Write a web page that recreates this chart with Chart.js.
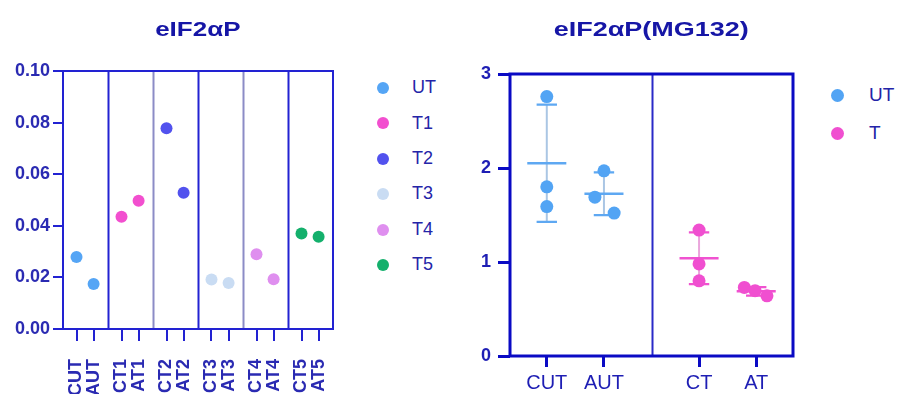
<!DOCTYPE html>
<html>
<head>
<meta charset="utf-8">
<script src="https://cdn.jsdelivr.net/npm/chart.js@4.4.1/dist/chart.umd.min.js"></script>
<style>
  html, body { margin: 0; padding: 0; background: #ffffff; }
  body { width: 897px; height: 394px; position: relative; overflow: hidden; font-family: "Liberation Sans", Arial, sans-serif; }
  canvas { position: absolute; top: 0; }
  .title { position: absolute; top: 18px; font-weight: bold; font-size: 20px; color: #1616a6; white-space: nowrap; transform-origin: center; }
  .legend { position: absolute; color: #2424a8; }
  .legend .dot { position: absolute; border-radius: 50%; }
  .legend .txt { position: absolute; line-height: 1; white-space: nowrap; }
</style>
</head>
<body>
<canvas id="left" width="350" height="394" style="left:0"></canvas>
<canvas id="right" width="370" height="394" style="left:440px"></canvas>
<div class="title" id="titleLeft"></div>
<div class="title" id="titleRight"></div>
<div class="legend" id="legendLeft"></div>
<div class="legend" id="legendRight"></div>
<script>
// ---- eIF2αP : one control / one treated reading per treatment group ----
const leftTitle = 'eIF2αP';
const leftSeries = ['UT', 'T1', 'T2', 'T3', 'T4', 'T5'];
const leftColors = ['#55a5f5', '#f24fcf', '#5252ee', '#c9dcf3', '#df8fef', '#14b06c'];
const leftTickLabels = ['CUT', 'AUT', 'CT1', 'AT1', 'CT2', 'AT2', 'CT3', 'AT3', 'CT4', 'AT4', 'CT5', 'AT5'];
const controlValues = [0.0279, 0.0435, 0.0778, 0.0192, 0.0290, 0.0370];
const treatedValues = [0.0174, 0.0497, 0.0528, 0.0178, 0.0193, 0.0358];
const leftYTicks = [0, 0.02, 0.04, 0.06, 0.08, 0.10];

// ---- eIF2αP(MG132) : triplicates with mean ± SD ----
const rightTitle = 'eIF2αP(MG132)';
const rightSeries = ['UT', 'T'];
const rightColors = ['#52a4f4', '#f04fd0'];
const rightTickLabels = ['CUT', 'AUT', 'CT', 'AT'];
const cutValues = [2.76, 1.80, 1.59];
const autValues = [1.97, 1.69, 1.52];
const ctValues = [1.34, 0.98, 0.80];
const atValues = [0.73, 0.695, 0.64];
const rightYTicks = [0, 1, 2, 3];

// horizontal placement on the value axes
const leftSlot = [0.30, 0.68];               // control / treated slot inside each group
const leftDividers = [1, 2, 3, 4, 5];
const rightCenters = [0.65, 1.66, 3.34, 4.35];
const rightDivider = 2.5;
const cutJitter = [0, 0, 0];
const autJitter = [0, -0.16, 0.18];
const ctJitter = [0, 0, 0];
const atJitter = [-0.21, -0.02, 0.19];

const axisBlue = '#2222d2';
const tickText = '#2a2ab2';
const font = 'Liberation Sans';

Chart.defaults.animation = false;
Chart.defaults.plugins.tooltip.enabled = false;
Chart.defaults.plugins.legend.display = false;

function mean(a) { return a.reduce((s, v) => s + v, 0) / a.length; }
function sd(a) { const m = mean(a); return Math.sqrt(a.reduce((s, v) => s + (v - m) * (v - m), 0) / (a.length - 1)); }

// Box around the plot area plus vertical separators between groups
const framePlugin = {
  id: 'frame',
  afterDatasetsDraw(chart, args, o) {
    const { ctx, chartArea: a, scales: { x } } = chart;
    ctx.save();
    o.dividers.forEach(d => {
      const px = Math.round(x.getPixelForValue(d.value)) + 0.5;
      ctx.strokeStyle = d.color;
      ctx.lineWidth = o.dividerWidth;
      ctx.beginPath(); ctx.moveTo(px, a.top); ctx.lineTo(px, a.bottom); ctx.stroke();
    });
    ctx.strokeStyle = o.color;
    ctx.lineWidth = o.width;
    ctx.strokeRect(a.left, a.top, a.right - a.left, a.bottom - a.top);
    ctx.restore();
  }
};

// Mean line and ±SD whiskers for each triplicate group
const errorBarPlugin = {
  id: 'errorBars',
  beforeDatasetsDraw(chart, args, o) {
    const { ctx, scales: { x, y } } = chart;
    ctx.save();
    ctx.lineCap = 'butt';
    o.groups.forEach(g => {
      const m = mean(g.values), s = sd(g.values);
      const cx = x.getPixelForValue(g.center);
      const yTop = y.getPixelForValue(m + s), yBot = y.getPixelForValue(m - s), yMean = y.getPixelForValue(m);
      ctx.strokeStyle = g.whisker; ctx.lineWidth = 2;
      ctx.beginPath(); ctx.moveTo(cx, yTop); ctx.lineTo(cx, yBot); ctx.stroke();
      ctx.strokeStyle = g.color; ctx.lineWidth = 2.2;
      const cw = x.getPixelForValue(g.center + o.capHalf) - cx;
      const mw = x.getPixelForValue(g.center + o.meanHalf) - cx;
      ctx.beginPath();
      ctx.moveTo(cx - cw, yTop); ctx.lineTo(cx + cw, yTop);
      ctx.moveTo(cx - cw, yBot); ctx.lineTo(cx + cw, yBot);
      ctx.stroke();
      ctx.lineWidth = 2.6;
      ctx.beginPath(); ctx.moveTo(cx - mw, yMean); ctx.lineTo(cx + mw, yMean); ctx.stroke();
    });
    ctx.restore();
  }
};

// ---------------- left chart ----------------
const leftTickPositions = [];
leftSeries.forEach((_, i) => leftSlot.forEach(s => leftTickPositions.push(i + s)));

new Chart(document.getElementById('left'), {
  type: 'scatter',
  data: {
    datasets: leftSeries.map((name, i) => ({
      label: name,
      data: [{ x: i + leftSlot[0], y: controlValues[i] }, { x: i + leftSlot[1], y: treatedValues[i] }],
      backgroundColor: leftColors[i],
      borderWidth: 0,
      pointRadius: 6
    }))
  },
  options: {
    responsive: false,
    layout: { padding: { top: 71, right: 17, bottom: 0, left: 0 } },
    scales: {
      x: {
        type: 'linear', min: 0, max: leftSeries.length,
        afterBuildTicks: s => { s.ticks = leftTickPositions.map(v => ({ value: v })); },
        afterFit: s => { s.height = 65; s.paddingLeft = 0; s.paddingRight = 0; },
        grid: { drawOnChartArea: false, drawTicks: true, tickLength: 12, tickColor: axisBlue, lineWidth: 2 },
        border: { display: false },
        ticks: {
          autoSkip: false, minRotation: 90, maxRotation: 90, padding: 18,
          color: tickText, font: { family: font, size: 18, weight: 'bold' },
          callback: (v, i) => leftTickLabels[i]
        }
      },
      y: {
        min: 0, max: 0.1,
        afterBuildTicks: s => { s.ticks = leftYTicks.map(v => ({ value: v })); },
        afterFit: s => { s.width = 63; },
        grid: { drawOnChartArea: false, drawTicks: true, tickLength: 10, tickColor: axisBlue, lineWidth: 2 },
        border: { display: false },
        ticks: { padding: 3, color: tickText, font: { family: font, size: 18, weight: 'bold' }, callback: v => v.toFixed(2) }
      }
    },
    plugins: {
      frame: {
        color: axisBlue, width: 2, dividerWidth: 2,
        dividers: leftDividers.map((v, i) => ({ value: v, color: i % 2 === 1 ? '#8c8cc6' : axisBlue }))
      }
    }
  },
  plugins: [framePlugin]
});

// ---------------- right chart ----------------
const pts = (vals, center, jitter) => vals.map((v, i) => ({ x: center + jitter[i], y: v }));

new Chart(document.getElementById('right'), {
  type: 'scatter',
  data: {
    datasets: [
      { label: rightSeries[0], data: [...pts(cutValues, rightCenters[0], cutJitter), ...pts(autValues, rightCenters[1], autJitter)],
        backgroundColor: rightColors[0], borderWidth: 0, pointRadius: 6.5 },
      { label: rightSeries[1], data: [...pts(ctValues, rightCenters[2], ctJitter), ...pts(atValues, rightCenters[3], atJitter)],
        backgroundColor: rightColors[1], borderWidth: 0, pointRadius: 6.5 }
    ]
  },
  options: {
    responsive: false,
    layout: { padding: { top: 74, right: 17, bottom: 0, left: 0 } },
    scales: {
      x: {
        type: 'linear', min: 0, max: 5,
        afterBuildTicks: s => { s.ticks = rightCenters.map(v => ({ value: v })); },
        afterFit: s => { s.height = 38; s.paddingLeft = 0; s.paddingRight = 0; },
        grid: { drawOnChartArea: false, drawTicks: true, tickLength: 11, tickColor: '#0a0ac4', lineWidth: 3 },
        border: { display: false },
        ticks: { autoSkip: false, maxRotation: 0, padding: 4, color: '#1e1eb4', font: { family: font, size: 20 },
          callback: (v, i) => rightTickLabels[i] }
      },
      y: {
        min: 0, max: 3,
        afterBuildTicks: s => { s.ticks = rightYTicks.map(v => ({ value: v })); },
        afterFit: s => { s.width = 70; },
        grid: { drawOnChartArea: false, drawTicks: true, tickLength: 12, tickColor: '#0a0ac4', lineWidth: 3 },
        border: { display: false },
        ticks: { padding: 7, color: '#1e1eb4', font: { family: font, size: 18, weight: 'bold' } }
      }
    },
    plugins: {
      frame: { color: '#0a0ac4', width: 3, dividerWidth: 2, dividers: [{ value: rightDivider, color: '#2a2ac8' }] },
      errorBars: {
        capHalf: 0.18, meanHalf: 0.345,
        groups: [
          { center: rightCenters[0], values: cutValues, color: '#5ea8f2', whisker: '#aac6e4' },
          { center: rightCenters[1], values: autValues, color: '#5ea8f2', whisker: '#aac6e4' },
          { center: rightCenters[2], values: ctValues, color: '#f052d0', whisker: '#eaa6dc' },
          { center: rightCenters[3], values: atValues, color: '#f052d0', whisker: '#eaa6dc' }
        ]
      }
    }
  },
  plugins: [errorBarPlugin, framePlugin]
});

// ---------------- titles ----------------
function placeTitle(id, text, centerX, scale) {
  const el = document.getElementById(id);
  el.textContent = text;
  const w = el.offsetWidth;
  el.style.left = (centerX - w / 2) + 'px';
  el.style.transform = 'scaleX(' + scale + ')';
}
placeTitle('titleLeft', leftTitle, 198, 1.3);
placeTitle('titleRight', rightTitle, 651.5, 1.35);

// ---------------- legends ----------------
function buildLegend(id, names, colors, dotX, textX, firstY, step, radius, size) {
  const box = document.getElementById(id);
  names.forEach((n, i) => {
    const cy = firstY + i * step;
    const dot = document.createElement('div');
    dot.className = 'dot';
    dot.style.cssText = `left:${dotX - radius}px;top:${cy - radius}px;width:${2 * radius}px;height:${2 * radius}px;background:${colors[i]}`;
    const t = document.createElement('div');
    t.className = 'txt';
    t.textContent = n;
    t.style.cssText = `left:${textX}px;top:${cy - size * 0.55}px;font-size:${size}px`;
    box.appendChild(dot); box.appendChild(t);
  });
}
buildLegend('legendLeft', leftSeries, leftColors, 383, 412, 88, 35.4, 6, 18);
buildLegend('legendRight', rightSeries, rightColors, 837, 869, 95, 38, 6.5, 19);
</script>
</body>
</html>
